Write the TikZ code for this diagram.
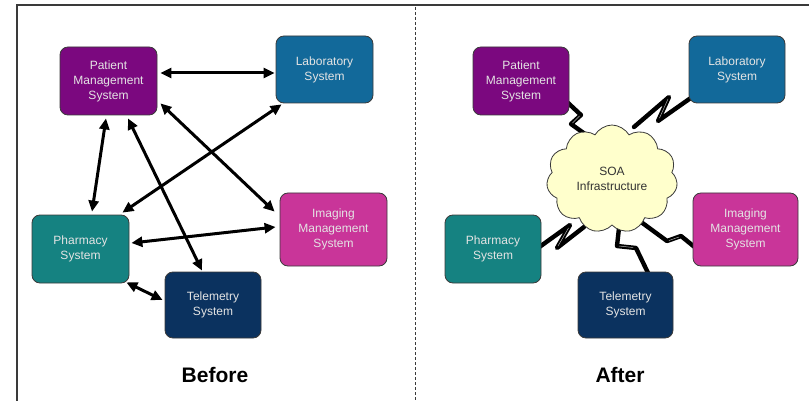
\documentclass[tikz,border=0pt]{standalone}
\usepackage{fontspec}
\setmainfont{Liberation Sans}
\usetikzlibrary{arrows.meta,calc,shapes.symbols}

\definecolor{cPat}{HTML}{7B087F}
\definecolor{cLab}{HTML}{12699A}
\definecolor{cImg}{HTML}{C93599}
\definecolor{cPha}{HTML}{158281}
\definecolor{cTel}{HTML}{0B325F}
\definecolor{cCloud}{HTML}{FFFFCC}
\definecolor{cEdge}{HTML}{3A3A3A}
\definecolor{cLabel}{HTML}{E4E4E4}

\tikzset{
  sysbox/.style={draw=cEdge, line width=0.8pt, rounded corners=8pt,
    text=cLabel, align=center, inner sep=2pt,
    font=\fontsize{12}{15}\selectfont},
  arr/.style={line width=3pt, black,
    {Triangle[length=11pt,width=10pt]}-{Triangle[length=11pt,width=10pt]}},
  zz/.style={line width=4.4pt, black, line join=round, line cap=round},
  zzcore/.style={line width=0.5pt, gray!60, line cap=round},
  caption/.style={font=\fontsize{21}{24}\selectfont\bfseries, text=black},
}

\begin{document}
\begin{tikzpicture}[x=1pt,y=-1pt]
\useasboundingbox (0,0) rectangle (809,401);
\fill[white] (0,0) rectangle (809,401);

% outer frame and panel divider
\draw[cEdge, line width=1.5pt] (17,401) -- (17,5) -- (809,5);
\draw[cEdge, line width=0.8pt, dash pattern=on 3pt off 2pt] (415,7) -- (415,401);

% ---------- left panel: point-to-point links ----------
\node[sysbox, fill=cPat, minimum width=97pt, minimum height=68pt] (patL) at (108.5,81) {Patient\\Management\\System};
\node[sysbox, fill=cLab, minimum width=97pt, minimum height=67pt] (labL) at (324.5,69.5) {Laboratory\\System};
\node[sysbox, fill=cImg, minimum width=107pt, minimum height=73pt] (imgL) at (333.5,229.5) {Imaging\\Management\\System};
\node[sysbox, fill=cPha, minimum width=97pt, minimum height=68pt] (phaL) at (80.5,249) {Pharmacy\\System};
\node[sysbox, fill=cTel, minimum width=96pt, minimum height=66pt] (telL) at (213,305) {Telemetry\\System};

\draw[arr] ($(patL.east)+(3,-8)$) -- ($(labL.west)+(-1,3.5)$);
\draw[arr] ($(patL.south)+(-2.5,3)$) -- ($(phaL.north)+(11.5,-3)$);
\draw[arr] ($(patL.south)+(19.5,3)$) -- ($(telL.north)+(-11,-1)$);
\draw[arr] ($(patL.south east)+(3,-12)$) -- ($(imgL.north west)+(-5,19)$);
\draw[arr] ($(labL.south west)+(6,1)$) -- ($(phaL.north east)+(-7,-2)$);
\draw[arr] ($(phaL.east)+(2,-6)$) -- ($(imgL.west)+(-4,-2.5)$);
\draw[arr] ($(phaL.south east)+(-3,-1)$) -- ($(telL.west)+(-2,-5)$);

\node[caption] (before) at (215,375) {Before};

% ---------- right panel: links through the SOA cloud ----------
\coordinate (soa0) at (612,179);
\draw[zz] ($(soa0)+(-20,-40)$) -- (571,124) -- (581,115) -- (566,101);
\draw[zz] ($(soa0)+(22,-52)$) -- (669,97) -- (658,121) -- (695,95);
\draw[zz] ($(soa0)+(-28,48)$) -- (557,248) -- (570,225) -- (538,248);
\draw[zz] ($(soa0)+(8,40)$) -- (617,246) -- (636,248) -- (649,275);
\draw[zz] ($(soa0)+(25,40)$) -- (667,241) -- (681,236) -- (697,249);
% light seams along the folded middle segments
\draw[zzcore] (572.5,123) -- (579.5,116);
\draw[zzcore] (668,99) -- (659.5,118);
\draw[zzcore] (558,246) -- (568.5,228);
\draw[zzcore] (619,246) -- (633,247.5);
\draw[zzcore] (669,240.5) -- (679,237);

\node[sysbox, fill=cPat, minimum width=96pt, minimum height=68pt] (patR) at (521,81) {Patient\\Management\\System};
\node[sysbox, fill=cLab, minimum width=96pt, minimum height=67pt] (labR) at (737,69.5) {Laboratory\\System};
\node[sysbox, fill=cImg, minimum width=105pt, minimum height=73pt] (imgR) at (745.5,229.5) {Imaging\\Management\\System};
\node[sysbox, fill=cPha, minimum width=96pt, minimum height=68pt] (phaR) at (493,249) {Pharmacy\\System};
\node[sysbox, fill=cTel, minimum width=95pt, minimum height=66pt] (telR) at (625.5,305) {Telemetry\\System};

\node[cloud, cloud puffs=11, cloud puff arc=120, aspect=1.2,
      draw=cEdge, line width=0.8pt, fill=cCloud, text=black!80,
      minimum width=131pt, minimum height=108pt, align=center,
      font=\fontsize{12}{15}\selectfont] (soa) at (soa0) {SOA\\Infrastructure};

\node[caption] (after) at (620,375) {After};
\end{tikzpicture}
\end{document}
